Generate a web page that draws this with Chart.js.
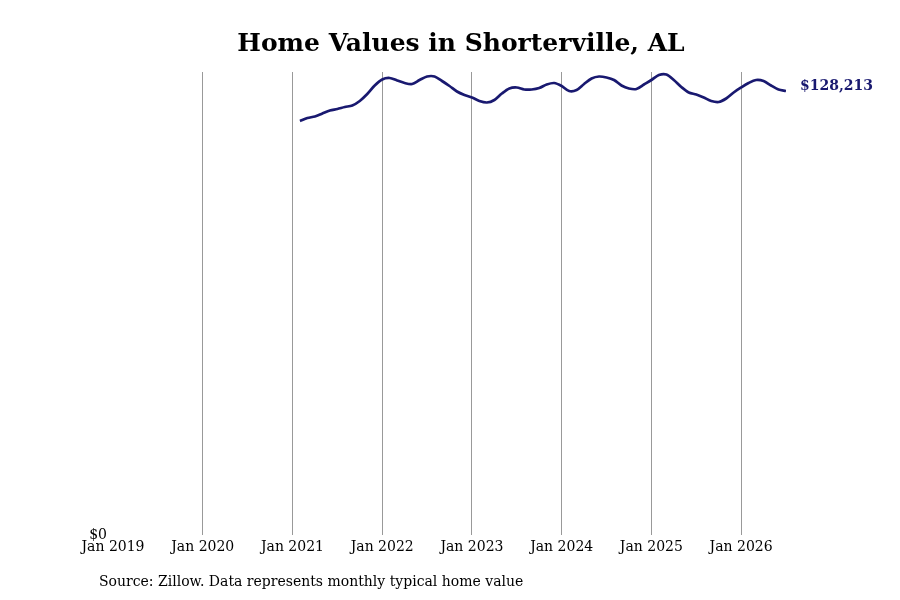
<!DOCTYPE html>
<html>
<head>
<meta charset="utf-8">
<script src="https://cdn.jsdelivr.net/npm/chart.js@4"></script>
<style>
  html, body { margin: 0; padding: 0; background: #fff; }
  #chart { display: block; }
</style>
</head>
<body>
<canvas id="chart" width="900" height="600"></canvas>
<script>
// Données (valeur typique mensuelle)
const firstMonth = 25; // Feb 2021, en mois depuis Jan 2019
const homeValues = [
  119550, 120420, 120850, 121720, 122580, 123020, 123590, 124030, 125330, 127350, 129800,
  131540, 131970, 131250, 130520, 130240, 131390, 132400, 132400, 131100, 129660, 128070, 127060,
  126340, 125330, 124890, 125620, 127490, 128940, 129230, 128650, 128650, 129080, 130090, 130520,
  129660, 128210, 128500, 130240, 131820, 132400, 132110, 131390, 129800, 128940, 128790, 130090,
  131390, 132830, 132980, 131390, 129370, 127780, 127200, 126340, 125330, 125040, 126050, 127780,
  129230, 130520, 131390, 131100, 129800, 128650, 128213
];
const tickMonths = [0, 12, 24, 36, 48, 60, 72, 84];
const tickLabels = ['Jan 2019', 'Jan 2020', 'Jan 2021', 'Jan 2022', 'Jan 2023', 'Jan 2024', 'Jan 2025', 'Jan 2026'];
const yTickValues = [0];
const yTickLabels = ['$0'];
const lastLabel = '$128,213';

const lineColor = '#191970';
const serif = '"DejaVu Serif", serif';

const points = homeValues.map((v, i) => ({ x: firstMonth + i, y: v }));

// titre, source et étiquette de fin
const textPlugin = {
  id: 'texts',
  afterDraw(chart) {
    const ctx = chart.ctx;
    ctx.save();
    ctx.fillStyle = '#000';
    ctx.font = 'bold 25px ' + serif;
    ctx.textAlign = 'center';
    ctx.textBaseline = 'middle';
    ctx.fillText('Home Values in Shorterville, AL', 461, 44);

    ctx.font = '14px ' + serif;
    ctx.textAlign = 'left';
    ctx.fillText('Source: Zillow. Data represents monthly typical home value', 99, 582);

    const meta = chart.getDatasetMeta(0);
    const last = meta.data[meta.data.length - 1];
    ctx.fillStyle = lineColor;
    ctx.font = 'bold 14px ' + serif;
    ctx.fillText(lastLabel, last.x + 14, last.y - 5);
    ctx.restore();
  }
};

new Chart(document.getElementById('chart'), {
  type: 'line',
  data: {
    datasets: [{
      data: points,
      borderColor: lineColor,
      borderWidth: 2.7,
      pointRadius: 0,
      tension: 0.3,
      fill: false
    }]
  },
  options: {
    responsive: false,
    animation: false,
    devicePixelRatio: 1,
    layout: { padding: { top: 72, left: 83, right: 114, bottom: 0 } },
    plugins: { legend: { display: false }, tooltip: { enabled: false } },
    scales: {
      x: {
        type: 'linear',
        min: 0,
        max: 90,
        afterBuildTicks: s => { s.ticks = tickMonths.map(v => ({ value: v })); },
        afterFit: s => { s.height = 65; },
        border: { display: false },
        grid: {
          drawTicks: false,
          color: c => (c.tick && c.tick.value === 0) ? 'rgba(0,0,0,0)' : '#999999',
          lineWidth: 1
        },
        ticks: {
          padding: 4,
          maxRotation: 0,
          autoSkip: false,
          color: '#000',
          font: { family: serif, size: 14 },
          callback: v => tickLabels[tickMonths.indexOf(v)]
        }
      },
      y: {
        min: 0,
        max: 133700,
        afterBuildTicks: s => { s.ticks = yTickValues.map(v => ({ value: v })); },
        afterFit: s => { s.width = 30; },
        border: { display: false },
        grid: { display: false, drawTicks: false },
        ticks: {
          padding: 6,
          color: '#000',
          font: { family: serif, size: 14 },
          callback: v => yTickLabels[yTickValues.indexOf(v)]
        }
      }
    }
  },
  plugins: [textPlugin]
});
</script>
</body>
</html>
